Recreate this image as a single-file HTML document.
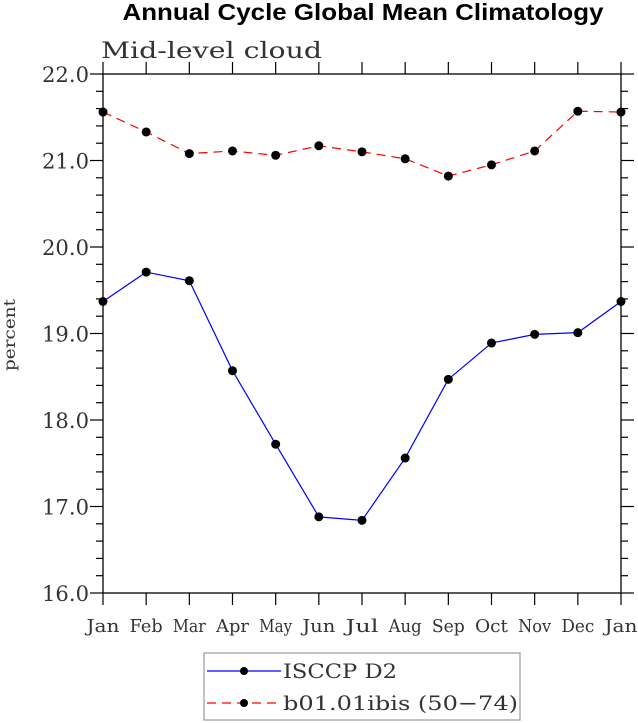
<!DOCTYPE html>
<html><head><meta charset="utf-8"><style>
body{margin:0;background:#fff;width:638px;height:723px;overflow:hidden}
svg{display:block}
</style></head><body>
<svg id="chart" width="638" height="723" xmlns="http://www.w3.org/2000/svg" font-family="DejaVu Serif, Liberation Serif, serif">
<text x="363" y="20" text-anchor="middle" font-family="Liberation Sans, sans-serif" font-weight="bold" font-size="23" textLength="481" lengthAdjust="spacingAndGlyphs">Annual Cycle Global Mean Climatology</text>
<text x="101" y="58" font-size="22" fill="#333" textLength="221" lengthAdjust="spacingAndGlyphs" font-weight="300">Mid-level cloud</text>
<text transform="translate(15,335) rotate(-90)" text-anchor="middle" font-size="16" fill="#333" textLength="72" lengthAdjust="spacingAndGlyphs">percent</text>
<g id="axes"></g>
<g id="series"></g>
<g>
<rect x="204" y="653" width="316" height="67" fill="none" stroke="#999" stroke-width="1.2"/>
<line x1="207" y1="671" x2="281" y2="671" stroke="#0000ff" stroke-width="1.2"/>
<circle cx="244" cy="671" r="4" fill="#000"/>
<text x="283" y="678" font-size="20" fill="#333" textLength="114" lengthAdjust="spacingAndGlyphs">ISCCP D2</text>
<line x1="207" y1="703" x2="281" y2="703" stroke="#ff0000" stroke-width="1.2" stroke-dasharray="9,6"/>
<circle cx="244" cy="703" r="4" fill="#000"/>
<text x="283" y="710" font-size="20" fill="#333" textLength="235" lengthAdjust="spacingAndGlyphs">b01.01ibis (50−74)</text>
</g>
</svg>
<script>
const months=["Jan","Feb","Mar","Apr","May","Jun","Jul","Aug","Sep","Oct","Nov","Dec","Jan"];
const obsValues=[19.37,19.71,19.61,18.57,17.72,16.88,16.84,17.56,18.47,18.89,18.99,19.01,19.37];
const modelValues=[21.56,21.33,21.08,21.11,21.06,21.17,21.10,21.02,20.82,20.95,21.11,21.57,21.56];
const yTicks=["16.0","17.0","18.0","19.0","20.0","21.0","22.0"];
const NS="http://www.w3.org/2000/svg";
const L=103,R=621,T=74,B=593,yMin=16,yMax=22;
const xs=i=>L+(R-L)*i/(months.length-1);
const ys=v=>B-(B-T)*(v-yMin)/(yMax-yMin);
function mk(tag,attrs,parent){const e=document.createElementNS(NS,tag);for(const k in attrs)e.setAttribute(k,attrs[k]);parent.appendChild(e);return e;}
const ax=document.getElementById('axes');
const frame=mk('rect',{x:L,y:T,width:R-L,height:B-T,fill:'none',stroke:'#000','stroke-width':1.3},ax);


months.forEach((m,i)=>{const x=xs(i);
mk('line',{x1:x,y1:B,x2:x,y2:B+12,stroke:'#000','stroke-width':1.2},ax);
mk('line',{x1:x,y1:T,x2:x,y2:T-12,stroke:'#000','stroke-width':1.2},ax);
const t=mk('text',{x:x,y:B+39,'text-anchor':'middle','font-size':18,fill:'#333',textLength:33,lengthAdjust:'spacingAndGlyphs'},ax);t.textContent=m;

});
for(let v=yMin;v<=yMax+1e-6;v+=0.2){const y=ys(v);const major=Math.abs(v-Math.round(v))<1e-6;const len=major?13:7;
mk('line',{x1:L,y1:y,x2:L-len,y2:y,stroke:'#000','stroke-width':1.2},ax);
mk('line',{x1:R,y1:y,x2:R+len,y2:y,stroke:'#000','stroke-width':1.2},ax);}
yTicks.forEach(s=>{const y=ys(parseFloat(s));const t=mk('text',{x:L-14,y:y+8,'text-anchor':'end','font-size':21,fill:'#333',textLength:47,lengthAdjust:'spacingAndGlyphs'},ax);t.textContent=s;

});
const sg=document.getElementById('series');
function series(vals,color,dash,name){const g=mk('g',{},sg);


const p=mk('polyline',{points:vals.map((v,i)=>xs(i)+','+ys(v)).join(' '),fill:'none',stroke:color,'stroke-width':1.2},g);
if(dash)p.setAttribute('stroke-dasharray',dash);
vals.forEach((v,i)=>{const c=mk('circle',{cx:xs(i),cy:ys(v),r:4.5,fill:'#000'},g);

});}
series(obsValues,'#0000ff',null,'isccp-series');
series(modelValues,'#ff0000','9,6','model-series');
</script>
</body></html>
